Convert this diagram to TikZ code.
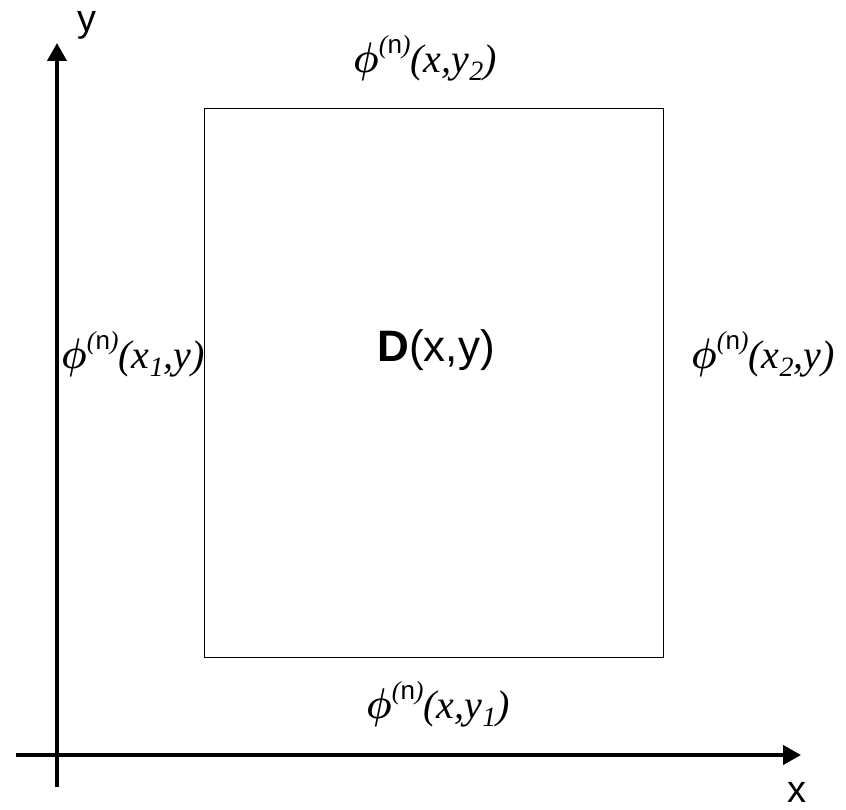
\documentclass[tikz,border=0pt]{standalone}
\usepackage{fontspec}
\setmainfont{Liberation Serif}
\setsansfont{Liberation Sans}
\usetikzlibrary{arrows.meta}
\newcommand{\phin}{\scalebox{3.6}[4.3]{\fontsize{10}{12}\selectfont\boldmath$\phi$}\raisebox{19pt}{\fontsize{26}{26}\selectfont\rmfamily\itshape(\textsf{\upshape n})}}
\newcommand{\sbs}[1]{\raisebox{-8pt}{\fontsize{28}{28}\selectfont\rmfamily\itshape #1}}
\begin{document}
\begin{tikzpicture}[x=1pt,y=-1pt,
  axis/.style={line width=4pt,-{Triangle[length=18pt,width=19pt]}},
  lbl/.style={font=\fontsize{40}{46}\selectfont\rmfamily\itshape,inner sep=0pt,anchor=base west},
  axlbl/.style={font=\fontsize{38}{44}\selectfont\sffamily,inner sep=0pt}]
\useasboundingbox (0,0) rectangle (846,810);
\coordinate (yb) at (57,787);
\coordinate (yt) at (57,43);
\coordinate (xl) at (16,755);
\coordinate (xr) at (801,755);
\draw[axis] (yb) -- (yt);
\draw[axis] (xl) -- (xr);
\node[draw,line width=1pt,minimum width=459pt,minimum height=548pt,inner sep=0pt] (D) at (433.5,383) {};
\node[font=\fontsize{44}{50}\selectfont\sffamily,inner sep=0pt] (Dl) at (436,350) {\textbf{D}(x,y)};
\node[axlbl] (ylab) at (87,25) {y};
\node[axlbl] (xlab) at (797,792) {x};
\node[lbl] (top) at (353,73) {\phin(x,y\sbs{2})};
\node[lbl] (left) at (61,368) {\phin(x\sbs{1},y)};
\node[lbl] (right) at (691,368) {\phin(x\sbs{2},y)};
\node[lbl] (bot) at (366,718) {\phin(x,y\sbs{1})};
\end{tikzpicture}
\end{document}
